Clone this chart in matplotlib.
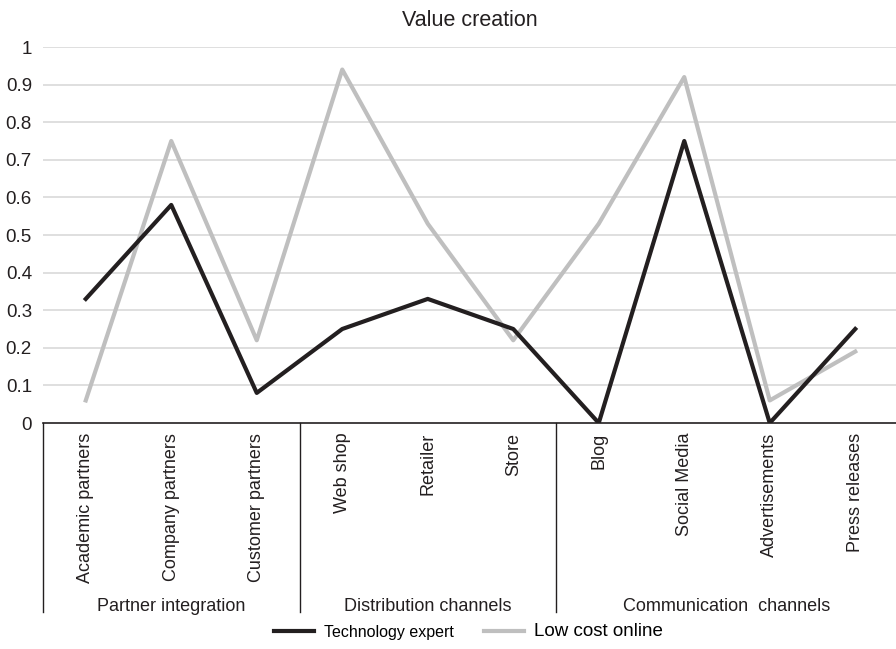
import matplotlib.pyplot as plt
import matplotlib.transforms as mtransforms

plt.rcParams['font.family'] = ['Liberation Sans', 'DejaVu Sans']

categories = ['Academic partners', 'Company partners', 'Customer partners',
              'Web shop', 'Retailer', 'Store',
              'Blog', 'Social Media', 'Advertisements', 'Press releases']
groups = ['Partner integration', 'Distribution channels', 'Communication  channels']
group_sizes = [3, 3, 4]

tech_expert = [0.33, 0.58, 0.08, 0.25, 0.33, 0.25, 0.0, 0.75, 0.0, 0.25]
low_cost = [0.06, 0.75, 0.22, 0.94, 0.53, 0.22, 0.53, 0.92, 0.06, 0.19]
y_ticks = [0, 0.1, 0.2, 0.3, 0.4, 0.5, 0.6, 0.7, 0.8, 0.9, 1]

fig = plt.figure(figsize=(8.96, 6.49), dpi=100)
ax = fig.add_axes([43 / 896, 1 - 423 / 649, 855 / 896, 376 / 649])

x = list(range(len(categories)))
l1, = ax.plot(x, tech_expert, color='#231f20', lw=3, label='Technology expert', zorder=3)
l2, = ax.plot(x, low_cost, color='#bfbfbf', lw=3, label='Low cost online', zorder=2)

ax.set_xlim(-0.5, len(categories) - 0.5)
ax.set_ylim(0, 1)
ax.set_yticks(y_ticks)
ax.set_yticklabels(['%g' % v for v in y_ticks], fontsize=13.5, color='#231f20')
ax.tick_params(axis='y', length=0, pad=8)
for v in y_ticks[1:]:
    ax.axhline(v, color='#d9d9d9', lw=1.2, zorder=1)

ax.set_xticks(x)
ax.set_xticklabels(categories, rotation=90, va='top', fontsize=13, color='#231f20')
ax.tick_params(axis='x', length=0, pad=7)

for s in ['top', 'right', 'left']:
    ax.spines[s].set_visible(False)
ax.spines['bottom'].set_color('#231f20')
ax.spines['bottom'].set_linewidth(1.2)

# group separators and group labels under the axis
trans = mtransforms.blended_transform_factory(ax.transData, ax.transAxes)
start = 0
bounds = [-0.5]
for g, n in zip(groups, group_sizes):
    center = start + (n - 1) / 2
    ax.text(center, -0.487, g, transform=trans, ha='center', va='center',
            fontsize=13, color='#231f20')
    start += n
    bounds.append(start - 0.5)
for b in bounds:
    ax.plot([b, b], [0, -0.503], transform=trans, color='#231f20', lw=1, clip_on=False)

fig.text(470 / 896, 1 - 20 / 649, 'Value creation', ha='center', va='center',
         fontsize=15.5, color='#231f20')

leg = fig.legend(handles=[l1, l2], loc='center', bbox_to_anchor=(468 / 896, 1 - 632 / 649),
                 ncol=2, frameon=False, fontsize=12, handlelength=2.45,
                 handletextpad=0.55, columnspacing=1.8)
leg.get_texts()[0].set_fontsize(11.5)
leg.get_texts()[1].set_fontsize(13.5)

fig.savefig('out.png', dpi=100)
